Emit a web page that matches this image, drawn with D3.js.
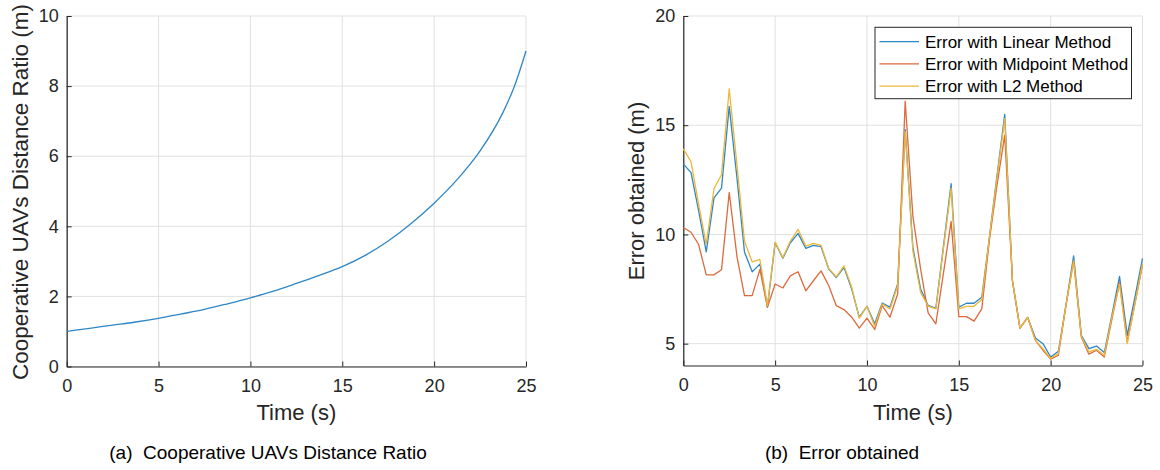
<!DOCTYPE html>
<html>
<head>
<meta charset="utf-8">
<script src="https://cdn.jsdelivr.net/npm/d3@7"></script>
<style>
  body { margin: 0; background: #fff; }
  svg { display: block; font-family: "Liberation Sans", Arial, sans-serif; }
</style>
</head>
<body>
<svg width="1160" height="470"></svg>
<script>
// left panel: distance ratio
const ratioTime = [0, 1.25, 2.5, 3.75, 5, 6.25, 7.5, 8.75, 10, 11.25, 12.5, 13.75, 15, 16.25, 17.5, 18.75, 20, 21.25, 22.5, 23.75, 24.375, 25];
const ratioValue = [1.00, 1.09, 1.18, 1.27, 1.375, 1.50, 1.63, 1.79, 1.96, 2.15, 2.37, 2.60, 2.85, 3.17, 3.58, 4.08, 4.66, 5.33, 6.15, 7.25, 8.00, 9.00];

// right panel: errors
const errTime = [0, 0.42, 0.83, 1.25, 1.67, 2.08, 2.5, 2.92, 3.33, 3.75, 4.17, 4.58, 5, 5.42, 5.83, 6.25, 6.67, 7.08, 7.5, 7.92,
  8.33, 8.75, 9.17, 9.58, 10, 10.42, 10.83, 11.25, 11.67, 12.08, 12.5, 12.92, 13.33, 13.75, 14.17, 14.58, 15, 15.42, 15.83, 16.25,
  16.67, 17.08, 17.5, 17.92, 18.33, 18.75, 19.17, 19.58, 20, 20.42, 20.83, 21.25, 21.67, 22.08, 22.5, 22.92, 23.33, 23.75, 24.17, 24.58, 25];
const errLinear = [13.23, 12.83, 11.10, 9.20, 11.67, 12.12, 15.86, 12.60, 9.20, 8.29, 8.64, 6.67, 9.62, 8.91, 9.62, 10.05, 9.36, 9.50, 9.44, 8.41,
  8.03, 8.48, 7.50, 6.21, 6.71, 5.91, 6.86, 6.67, 7.73, 14.80, 9.40, 7.50, 6.75, 6.62, 9.50, 12.32, 6.67, 6.85, 6.85, 7.12,
  9.90, 12.70, 15.50, 7.88, 5.71, 6.20, 5.26, 5.00, 4.39, 4.65, 6.74, 9.02, 5.38, 4.77, 4.89, 4.59, 6.30, 8.08, 5.38, 7.10, 8.90];
const errMidpoint = [10.32, 10.10, 9.55, 8.15, 8.15, 8.38, 11.92, 9.00, 7.20, 7.20, 8.40, 6.67, 7.73, 7.55, 8.10, 8.29, 7.42, 7.88, 8.33, 7.65,
  6.74, 6.56, 6.21, 5.71, 6.17, 5.65, 6.74, 6.21, 7.27, 16.10, 10.83, 8.41, 6.41, 5.91, 8.26, 10.60, 6.24, 6.24, 6.03, 6.59,
  9.77, 12.27, 14.55, 7.85, 5.71, 6.20, 5.15, 4.70, 4.29, 4.47, 6.74, 8.79, 5.30, 4.52, 4.70, 4.39, 6.10, 7.80, 5.08, 6.80, 8.60];
const errL2 = [13.92, 13.33, 11.40, 9.55, 12.09, 12.73, 16.66, 13.20, 9.70, 8.74, 8.86, 6.74, 9.65, 8.94, 9.70, 10.23, 9.47, 9.59, 9.50, 8.44,
  8.06, 8.56, 7.58, 6.17, 6.71, 5.80, 6.82, 6.59, 7.65, 14.70, 9.24, 7.35, 6.72, 6.59, 9.40, 12.12, 6.59, 6.71, 6.71, 7.02,
  9.90, 12.60, 15.30, 7.88, 5.71, 6.20, 5.15, 4.77, 4.32, 4.55, 6.74, 8.79, 5.34, 4.62, 4.74, 4.47, 6.20, 7.73, 5.00, 6.80, 8.65];

const timeTicks = [0, 5, 10, 15, 20, 25];
const ratioTicks = [0, 2, 4, 6, 8, 10];
const errTicks = [5, 10, 15, 20];

const seriesNames = ["Error with Linear Method", "Error with Midpoint Method", "Error with L2 Method"];
const colors = ["#2f86c6", "#dc6a3c", "#ecb73a"];

const svg = d3.select("svg");
const ink = "#262626";

function panel(box, yDomain, yTicks) {
  const x = d3.scaleLinear().domain([0, 25]).range([box.x0, box.x1]);
  const y = d3.scaleLinear().domain(yDomain).range([box.y1, box.y0]);
  const g = svg.append("g");

  // grid
  g.append("g").selectAll("line").data(timeTicks).join("line")
    .attr("x1", d => x(d)).attr("x2", d => x(d))
    .attr("y1", box.y0).attr("y2", box.y1)
    .attr("stroke", "#e1e1e1").attr("stroke-width", 1);
  g.append("g").selectAll("line").data(yTicks).join("line")
    .attr("x1", box.x0).attr("x2", box.x1)
    .attr("y1", d => y(d)).attr("y2", d => y(d))
    .attr("stroke", "#e1e1e1").attr("stroke-width", 1);

  g.append("g")
    .attr("transform", `translate(0,${box.y1})`)
    .style("color", ink)
    .call(d3.axisBottom(x).tickValues(timeTicks).tickSizeInner(-5).tickSizeOuter(0).tickPadding(13))
    .call(a => a.selectAll("text").attr("font-size", 18).attr("font-family", null));
  g.append("g")
    .attr("transform", `translate(${box.x0},0)`)
    .style("color", ink)
    .call(d3.axisLeft(y).tickValues(yTicks).tickSizeInner(-5).tickSizeOuter(0).tickPadding(8))
    .call(a => a.selectAll("text").attr("font-size", 18).attr("font-family", null));
  g.selectAll(".domain").attr("stroke-width", 1.2);

  g.append("text")
    .attr("x", (box.x0 + box.x1) / 2).attr("y", 420)
    .attr("text-anchor", "middle").attr("font-size", 22).attr("fill", ink)
    .text("Time (s)");

  return { x, y, g };
}

// (a)
const pa = panel({ x0: 66.7, x1: 526, y0: 16, y1: 366.5 }, [0, 10], ratioTicks);
pa.g.append("text")
  .attr("transform", `translate(20,192) rotate(-90)`)
  .attr("dy", "0.35em")
  .attr("text-anchor", "middle").attr("font-size", 22.5).attr("fill", ink)
  .text("Cooperative UAVs Distance Ratio (m)");
pa.g.append("path")
  .datum(ratioTime.map((t, i) => [t, ratioValue[i]]))
  .attr("fill", "none").attr("stroke", colors[0]).attr("stroke-width", 1.3)
  .attr("d", d3.line().x(d => pa.x(d[0])).y(d => pa.y(d[1])).curve(d3.curveMonotoneX));

// (b)
const pb = panel({ x0: 683.3, x1: 1142.5, y0: 16, y1: 365.5 }, [4, 20], errTicks);
pb.g.append("text")
  .attr("transform", `translate(636,191) rotate(-90)`)
  .attr("dy", "0.35em")
  .attr("text-anchor", "middle").attr("font-size", 22).attr("fill", ink)
  .text("Error obtained (m)");

[errLinear, errMidpoint, errL2].forEach((vals, k) => {
  pb.g.append("path")
    .datum(errTime.map((t, i) => [t, vals[i]]))
    .attr("fill", "none").attr("stroke", colors[k]).attr("stroke-width", 1.3)
    .attr("stroke-linejoin", "round")
    .attr("d", d3.line().x(d => pb.x(d[0])).y(d => pb.y(d[1])));
});

// legend
const lg = pb.g.append("g");
lg.append("rect")
  .attr("x", 875).attr("y", 27.3).attr("width", 256.5).attr("height", 71.4)
  .attr("fill", "#fff").attr("stroke", ink).attr("stroke-width", 1);
seriesNames.forEach((name, k) => {
  const yy = 41.7 + k * 22.2;
  lg.append("line").attr("x1", 879.5).attr("x2", 919).attr("y1", yy).attr("y2", yy)
    .attr("stroke", colors[k]).attr("stroke-width", 1.3);
  lg.append("text").attr("x", 925).attr("y", yy).attr("dy", "0.35em")
    .attr("font-size", 17).attr("fill", "#000").text(name);
});

// captions
svg.append("text").attr("x", 268).attr("y", 459).attr("text-anchor", "middle")
  .attr("font-size", 19).attr("fill", "#000").style("white-space", "pre")
  .text("(a)  Cooperative UAVs Distance Ratio");
svg.append("text").attr("x", 842).attr("y", 459).attr("text-anchor", "middle")
  .attr("font-size", 19).attr("fill", "#000").style("white-space", "pre")
  .text("(b)  Error obtained");
</script>
</body>
</html>
